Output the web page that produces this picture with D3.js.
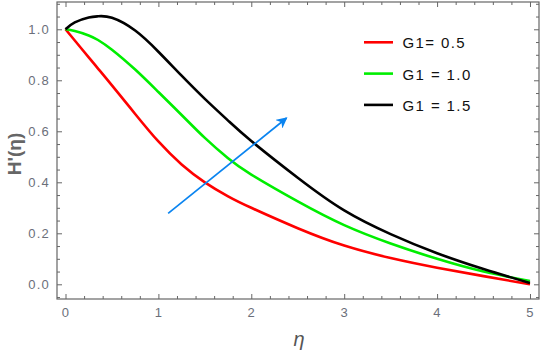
<!DOCTYPE html>
<html lang="en">
<head>
    <meta charset="UTF-8">
    <title>H'(eta) profiles</title>
    <script src="https://d3js.org/d3.v7.min.js"></script>
    <style>
        body { margin: 0; background: #fff; }
        .tick text { font-family: "Liberation Sans", Arial, sans-serif; font-size: 13px; fill: #6b6f7a; letter-spacing: 1.2px; }
        .tick line { stroke: #666; }
        .legend text { font-family: "Liberation Sans", Arial, sans-serif; font-size: 15px; fill: #111; letter-spacing: 1.4px; }
    </style>
</head>
<body>
<svg id="chart" width="541" height="354"></svg>
<script>
    // values
    const eta = [0, 0.1, 0.25, 0.35, 0.5, 0.75, 1.0, 1.25, 1.5, 1.75, 2.0, 2.5, 3.0, 3.5, 4.0, 4.5, 5.0];
    const g05 = [1.0, 0.956, 0.89, 0.846, 0.78, 0.668, 0.56, 0.47, 0.40, 0.345, 0.30, 0.22, 0.152, 0.103, 0.065, 0.032, 0.0];
    const g10 = [1.0, 0.993, 0.976, 0.958, 0.92, 0.842, 0.754, 0.664, 0.574, 0.494, 0.43, 0.325, 0.232, 0.16, 0.10, 0.05, 0.013];
    const g15 = [1.0, 1.027, 1.046, 1.051, 1.045, 0.995, 0.912, 0.818, 0.727, 0.642, 0.562, 0.418, 0.29, 0.197, 0.122, 0.06, 0.005];
    const seriesNames = ["G1= 0.5", "G1 = 1.0", "G1 = 1.5"];
    const seriesColors = ["#ff0000", "#00ee00", "#000000"];
    const xTicks = [0, 1, 2, 3, 4, 5];
    const yTicks = [0.0, 0.2, 0.4, 0.6, 0.8, 1.0];
    const arrowFrom = [1.105, 0.278];
    const arrowTo = [2.38, 0.652];

    const svg = d3.select('#chart');
    const fLeft = 57, fRight = 539, fTop = 2, fBottom = 299;

    const x = d3.scaleLinear().domain([-0.0915, 5.097]).range([fLeft, fRight]);
    const y = d3.scaleLinear().domain([-0.0576, 1.107]).range([fBottom, fTop]);

    const xMinor = d3.range(0, 5.01, 0.2).filter(v => Math.abs(v - Math.round(v)) > 1e-6);
    const yMinor = d3.range(-0.05, 1.11, 0.05).filter(v => Math.abs(v * 5 - Math.round(v * 5)) > 1e-6);

    // ticks on all four sides, pointing inward
    function addAxis(axis, tx, ty) {
        const g = svg.append('g').attr('transform', `translate(${tx},${ty})`).call(axis);
        g.select('.domain').remove();
        return g;
    }
    const fmt1 = d3.format('.1f');
    addAxis(d3.axisBottom(x).tickValues(xTicks).tickSize(-5).tickPadding(9).tickFormat(d3.format('d')), 0, fBottom);
    addAxis(d3.axisBottom(x).tickValues(xMinor).tickSize(-3).tickFormat(''), 0, fBottom);
    addAxis(d3.axisTop(x).tickValues(xTicks).tickSize(-5).tickFormat(''), 0, fTop);
    addAxis(d3.axisTop(x).tickValues(xMinor).tickSize(-3).tickFormat(''), 0, fTop);
    addAxis(d3.axisLeft(y).tickValues(yTicks).tickSize(-5).tickPadding(7).tickFormat(fmt1), fLeft, 0);
    addAxis(d3.axisLeft(y).tickValues(yMinor).tickSize(-3).tickFormat(''), fLeft, 0);
    addAxis(d3.axisRight(y).tickValues(yTicks).tickSize(-5).tickFormat(''), fRight, 0);
    addAxis(d3.axisRight(y).tickValues(yMinor).tickSize(-3).tickFormat(''), fRight, 0);

    svg.append('rect')
        .attr('x', fLeft).attr('y', fTop)
        .attr('width', fRight - fLeft).attr('height', fBottom - fTop)
        .attr('fill', 'none').attr('stroke', '#666').attr('stroke-width', 1.2);

    svg.append('clipPath').attr('id', 'clip')
        .append('rect').attr('x', fLeft).attr('y', fTop).attr('width', fRight - fLeft).attr('height', fBottom - fTop);

    const line = d3.line()
        .x(d => x(d[0]))
        .y(d => y(d[1]))
        .curve(d3.curveNatural);

    [g05, g10, g15].forEach((vals, i) => {
        svg.append('path')
            .datum(eta.map((e, j) => [e, vals[j]]))
            .attr('clip-path', 'url(#clip)')
            .attr('d', line)
            .attr('fill', 'none')
            .attr('stroke', seriesColors[i])
            .attr('stroke-width', 2.6);
    });

    // blue arrow
    svg.append('defs').append('marker')
        .attr('id', 'head')
        .attr('viewBox', '0 0 10 10')
        .attr('refX', 9).attr('refY', 5)
        .attr('markerWidth', 6.5).attr('markerHeight', 6.5)
        .attr('markerUnits', 'strokeWidth')
        .attr('orient', 'auto')
        .append('path')
        .attr('d', 'M0,0 L10,5 L0,10 L3,5 Z')
        .attr('fill', '#0a84f0');

    svg.append('line')
        .attr('x1', x(arrowFrom[0])).attr('y1', y(arrowFrom[1]))
        .attr('x2', x(arrowTo[0])).attr('y2', y(arrowTo[1]))
        .attr('stroke', '#0a84f0')
        .attr('stroke-width', 1.7)
        .attr('marker-end', 'url(#head)');

    // legend
    const legend = svg.append('g').attr('class', 'legend');
    seriesNames.forEach((name, i) => {
        const ly = 42.3 + i * 31.3;
        legend.append('line')
            .attr('x1', 364).attr('x2', 393)
            .attr('y1', ly).attr('y2', ly)
            .attr('stroke', seriesColors[i])
            .attr('stroke-width', 2.6);
        legend.append('text')
            .attr('x', 402.5).attr('y', ly + 6)
            .attr('xml:space', 'preserve')
            .text(name);
    });

    // axis labels
    svg.append('text')
        .attr('transform', 'translate(21,154) rotate(-90)')
        .attr('text-anchor', 'middle')
        .attr('font-family', '"Liberation Sans", Arial, sans-serif')
        .attr('font-size', 19)
        .attr('font-weight', 'bold')
        .attr('fill', '#666')
        .text("H'(η)");

    svg.append('text')
        .attr('x', 299).attr('y', 346)
        .attr('text-anchor', 'middle')
        .attr('font-family', '"Liberation Sans", Arial, sans-serif')
        .attr('font-size', 20)
        .attr('font-style', 'italic')
        .attr('fill', '#555')
        .text('η');
</script>
</body>
</html>
